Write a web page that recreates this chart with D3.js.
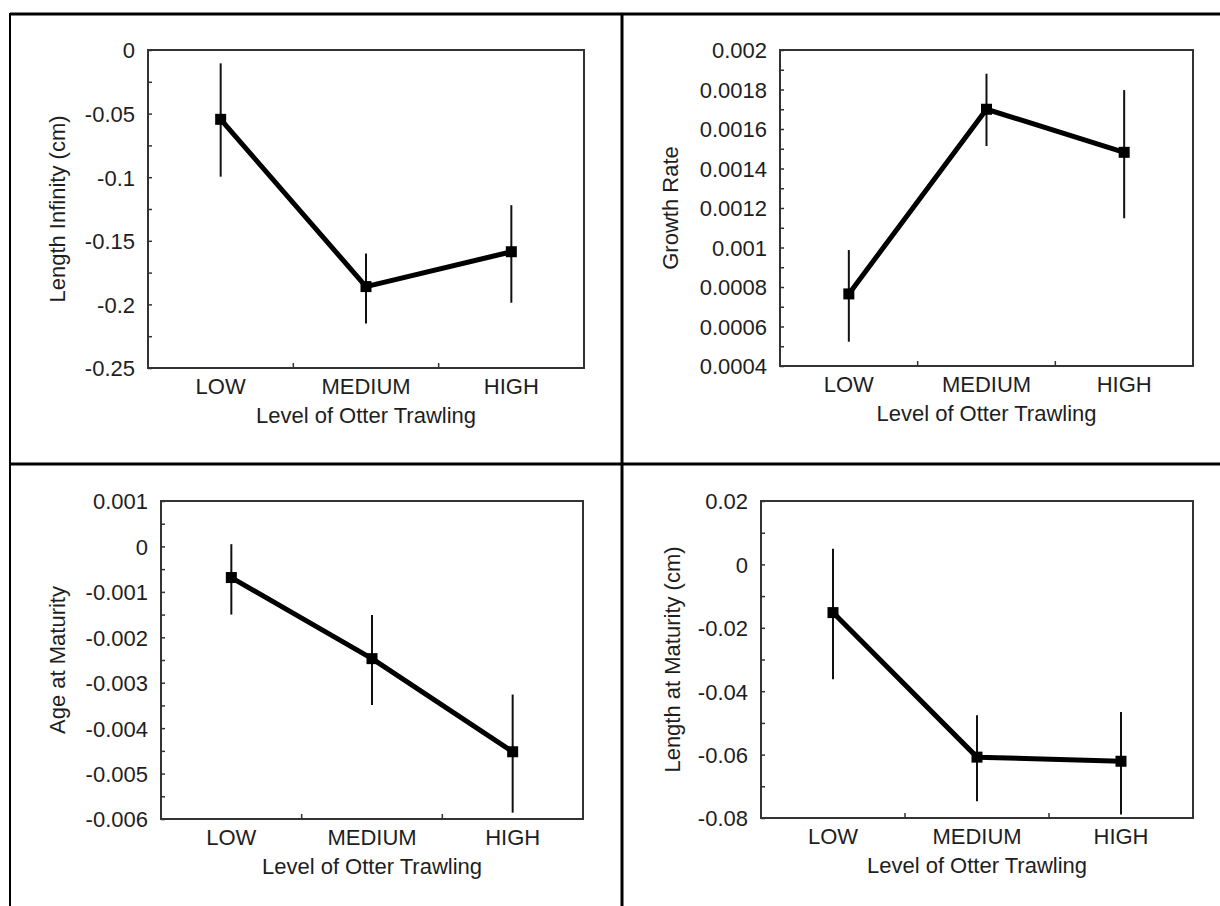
<!DOCTYPE html>
<html>
<head>
<meta charset="utf-8">
<script src="https://cdn.jsdelivr.net/npm/d3@7/dist/d3.min.js"></script>
<style>
  html, body { margin: 0; padding: 0; background: #fff; }
  svg { display: block; }
  text { font-family: "Liberation Sans", Arial, sans-serif; fill: #1e1e1e; }
</style>
</head>
<body>
<svg id="chart" width="1220" height="906"></svg>
<script>
// ---------------- DATA ----------------
const categories = ["LOW", "MEDIUM", "HIGH"];
const xTitle = "Level of Otter Trawling";

// Panel A: Length Infinity (cm)
const lenInfMean = [-0.0545, -0.186, -0.1586];
const lenInfLow  = [-0.0996, -0.215, -0.1987];
const lenInfHigh = [-0.0105, -0.160, -0.122];
const lenInfTicks = [0, -0.05, -0.1, -0.15, -0.2, -0.25];
const lenInfTickLabels = ["0", "-0.05", "-0.1", "-0.15", "-0.2", "-0.25"];

// Panel B: Growth Rate
const growthMean = [0.000765, 0.0017, 0.001482];
const growthLow  = [0.000523, 0.001514, 0.001148];
const growthHigh = [0.000987, 0.00188, 0.001797];
const growthTicks = [0.002, 0.0018, 0.0016, 0.0014, 0.0012, 0.001, 0.0008, 0.0006, 0.0004];
const growthTickLabels = ["0.002", "0.0018", "0.0016", "0.0014", "0.0012", "0.001", "0.0008", "0.0006", "0.0004"];

// Panel C: Age at Maturity
const ageMean = [-0.000685, -0.00247, -0.00452];
const ageLow  = [-0.0015, -0.00349, -0.00586];
const ageHigh = [0.00005, -0.00151, -0.00326];
const ageTicks = [0.001, 0, -0.001, -0.002, -0.003, -0.004, -0.005, -0.006];
const ageTickLabels = ["0.001", "0", "-0.001", "-0.002", "-0.003", "-0.004", "-0.005", "-0.006"];

// Panel D: Length at Maturity (cm)
const lenMatMean = [-0.0152, -0.0608, -0.0621];
const lenMatLow  = [-0.0362, -0.0747, -0.0789];
const lenMatHigh = [0.0049, -0.0476, -0.0466];
const lenMatTicks = [0.02, 0, -0.02, -0.04, -0.06, -0.08];
const lenMatTickLabels = ["0.02", "0", "-0.02", "-0.04", "-0.06", "-0.08"];

// ---------------- LAYOUT ----------------
const panels = [
  { title: "Length Infinity (cm)", mean: lenInfMean, lo: lenInfLow, hi: lenInfHigh,
    ticks: lenInfTicks, labels: lenInfTickLabels,
    box: { x0: 148, x1: 584, y0: 50, y1: 368 }, ylabX: 65 },
  { title: "Growth Rate", mean: growthMean, lo: growthLow, hi: growthHigh,
    ticks: growthTicks, labels: growthTickLabels,
    box: { x0: 780, x1: 1193, y0: 50, y1: 366 }, ylabX: 678 },
  { title: "Age at Maturity", mean: ageMean, lo: ageLow, hi: ageHigh,
    ticks: ageTicks, labels: ageTickLabels,
    box: { x0: 161, x1: 583, y0: 501, y1: 819 }, ylabX: 65 },
  { title: "Length at Maturity (cm)", mean: lenMatMean, lo: lenMatLow, hi: lenMatHigh,
    ticks: lenMatTicks, labels: lenMatTickLabels,
    box: { x0: 761, x1: 1193, y0: 501, y1: 818 }, ylabX: 680 }
];

const svg = d3.select("#chart");
const FS = 22;

// Outer frame lines
const frame = svg.append("g").attr("stroke", "#000");
frame.append("line").attr("x1", 10).attr("x2", 1220).attr("y1", 14).attr("y2", 14).attr("stroke-width", 3);
frame.append("line").attr("x1", 10).attr("x2", 1220).attr("y1", 464).attr("y2", 464).attr("stroke-width", 3);
frame.append("line").attr("x1", 10).attr("x2", 10).attr("y1", 13).attr("y2", 906).attr("stroke-width", 2);
frame.append("line").attr("x1", 622).attr("x2", 622).attr("y1", 13).attr("y2", 906).attr("stroke-width", 3);

panels.forEach(p => {
  const b = p.box;
  const g = svg.append("g");
  const x = d3.scaleBand().domain(categories).range([b.x0, b.x1]).padding(0);
  const y = d3.scaleLinear()
    .domain([d3.min(p.ticks), d3.max(p.ticks)])
    .range([b.y1, b.y0]);

  // minor ticks = midpoints between majors
  const sorted = p.ticks.slice().sort((a, c) => a - c);
  const minor = [];
  for (let i = 0; i < sorted.length - 1; i++) minor.push((sorted[i] + sorted[i + 1]) / 2);

  // y axis: major ticks with labels
  const labelMap = new Map(p.ticks.map((t, i) => [t, p.labels[i]]));
  const yAxis = d3.axisLeft(y).tickValues(p.ticks).tickSize(-4).tickPadding(13)
    .tickFormat(d => labelMap.get(d));
  const ya = g.append("g").attr("transform", `translate(${b.x0},0)`).call(yAxis);
  ya.select(".domain").remove();
  ya.selectAll(".tick line").attr("stroke", "#333").attr("stroke-width", 1.5);
  ya.selectAll(".tick text").attr("font-size", FS).attr("fill", "#1e1e1e")
    .attr("font-family", "Liberation Sans, Arial, sans-serif").attr("dy", "0.36em");

  const ym = g.append("g").attr("transform", `translate(${b.x0},0)`)
    .call(d3.axisLeft(y).tickValues(minor).tickSize(-4).tickFormat(""));
  ym.select(".domain").remove();
  ym.selectAll(".tick line").attr("stroke", "#333").attr("stroke-width", 1.5);

  // x axis: category labels at band centres, ticks at band boundaries
  const xa = g.append("g").attr("transform", `translate(0,${b.y1})`)
    .call(d3.axisBottom(x).tickSize(0).tickPadding(26));
  xa.select(".domain").remove();
  xa.selectAll(".tick text").attr("font-size", FS).attr("fill", "#1e1e1e")
    .attr("font-family", "Liberation Sans, Arial, sans-serif").attr("dy", "0");

  const bounds = categories.slice(1).map(c => x(c));
  g.selectAll(".xbound").data(bounds).join("line")
    .attr("x1", d => d).attr("x2", d => d)
    .attr("y1", b.y1).attr("y2", b.y1 - 5)
    .attr("stroke", "#333").attr("stroke-width", 1.5);

  // plot box
  g.append("rect")
    .attr("x", b.x0).attr("y", b.y0)
    .attr("width", b.x1 - b.x0).attr("height", b.y1 - b.y0)
    .attr("fill", "none").attr("stroke", "#333").attr("stroke-width", 2);

  // x title
  g.append("text")
    .attr("x", (b.x0 + b.x1) / 2).attr("y", b.y1 + 55)
    .attr("text-anchor", "middle").attr("font-size", FS)
    .text(xTitle);

  // y title
  g.append("text")
    .attr("transform", `translate(${p.ylabX},${(b.y0 + b.y1) / 2}) rotate(-90)`)
    .attr("text-anchor", "middle").attr("font-size", FS)
    .text(p.title);

  const cx = c => x(c) + x.bandwidth() / 2;
  const pts = categories.map((c, i) => ({ c, m: p.mean[i], lo: p.lo[i], hi: p.hi[i] }));

  // error bars
  g.selectAll(".err").data(pts).join("line")
    .attr("x1", d => cx(d.c)).attr("x2", d => cx(d.c))
    .attr("y1", d => y(d.hi)).attr("y2", d => y(d.lo))
    .attr("stroke", "#111").attr("stroke-width", 2);

  // mean line
  g.append("path")
    .datum(pts)
    .attr("d", d3.line().x(d => cx(d.c)).y(d => y(d.m)))
    .attr("fill", "none").attr("stroke", "#000").attr("stroke-width", 5)
    .attr("stroke-linejoin", "round");

  // square markers
  const S = 11;
  g.selectAll(".mk").data(pts).join("rect")
    .attr("x", d => cx(d.c) - S / 2).attr("y", d => y(d.m) - S / 2)
    .attr("width", S).attr("height", S).attr("fill", "#000");
});
</script>
</body>
</html>
